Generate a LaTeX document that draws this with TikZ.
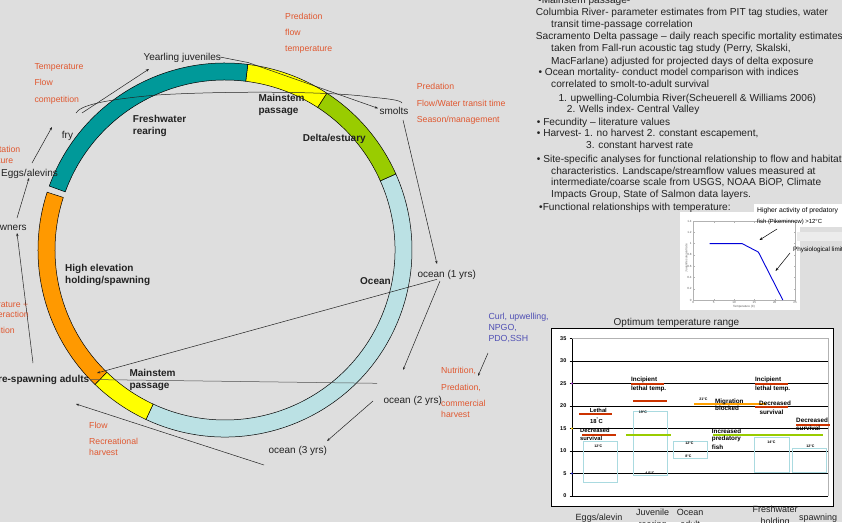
\documentclass[tikz,border=0pt]{standalone}
\usepackage{fontspec}
\setmainfont{Liberation Sans}
\usetikzlibrary{arrows.meta}
\definecolor{bg}{RGB}{222,222,222}
\definecolor{teal1}{RGB}{0,153,153}
\definecolor{yel}{RGB}{255,255,0}
\definecolor{grn}{RGB}{153,204,0}
\definecolor{lblue}{RGB}{187,225,228}
\definecolor{orng}{RGB}{255,153,0}
\definecolor{redtxt}{RGB}{224,88,48}
\definecolor{bluetxt}{RGB}{80,80,180}
\definecolor{txt}{RGB}{34,34,34}
\definecolor{chred}{RGB}{204,51,0}
\definecolor{chgrn}{RGB}{153,204,0}
\definecolor{chorg}{RGB}{255,160,0}
\definecolor{chblue}{RGB}{170,218,224}
\definecolor{mkpurple}{RGB}{160,50,200}
\definecolor{mkyellow}{RGB}{240,200,0}
\definecolor{mkblue}{RGB}{40,40,200}
\definecolor{lightbox}{RGB}{236,236,236}
\begin{document}
\begin{tikzpicture}[x=1pt,y=1pt,
  lab/.style={inner sep=0pt, anchor=base west, text=txt, font=\fontsize{10}{12}\selectfont},
  labb/.style={lab, font=\fontsize{10}{12}\selectfont\bfseries},
  rl/.style={inner sep=0pt, anchor=base west, text=redtxt, font=\fontsize{8.7}{10}\selectfont},
  bll/.style={inner sep=0pt, anchor=base west, text=bluetxt, font=\fontsize{8.8}{10}\selectfont},
  rb/.style={inner sep=0pt, anchor=base west, text=txt, font=\fontsize{10.15}{12}\selectfont},
  cb/.style={inner sep=0pt, anchor=base west, text=black, font=\fontsize{6.3}{7}\selectfont\bfseries},
  cv/.style={inner sep=0pt, anchor=center, text=black, font=\fontsize{3.6}{4}\selectfont\bfseries},
  ct/.style={inner sep=0pt, anchor=east, text=black, font=\fontsize{5.5}{6}\selectfont\bfseries},
  cx/.style={inner sep=0pt, anchor=base, text=txt, font=\fontsize{9}{10}\selectfont},
  insettick/.style={inner sep=0pt, text=gray!70!black, font=\fontsize{3}{3.5}\selectfont},
  insetlab/.style={inner sep=0pt, anchor=base west, text=black, font=\fontsize{6.3}{7}\selectfont},
  arr/.style={draw=txt, line width=0.5pt, -{Stealth[length=3.2pt,width=2.4pt]}},
  ln/.style={draw=txt, line width=0.5pt},
  seg/.style={draw=black, line width=0.5pt},
]
\fill[bg] (0,0) rectangle (842,-522);
\useasboundingbox (0,0) rectangle (842,-522);

% ---------------- life-cycle ring ----------------
\begin{scope}[shift={(225,-250)}]
\foreach \a/\b/\c in {-115/24/lblue, 24/57/grn, 57/83/yel, 83/160/teal1, 162/226/orng, 226/245/yel}
  \filldraw[seg, fill=\c] (\a:187pt) arc[start angle=\a, end angle=\b, radius=187pt]
     -- (\b:170pt) arc[start angle=\b, end angle=\a, radius=170pt] -- cycle;
\end{scope}

% inner bold labels
\node[labb] (fwr1) at (132.7,-122) {Freshwater};
\node[labb] (fwr2) at (132.7,-134) {rearing};
\node[labb] (ms1) at (258.3,-101.3) {Mainstem};
\node[labb] (ms2) at (258.3,-113.5) {passage};
\node[labb] (delta) at (302.7,-141) {Delta/estuary};
\node[labb] (hi1) at (65,-271.3) {High elevation};
\node[labb] (hi2) at (65,-283.3) {holding/spawning};
\node[labb] (oceanlab) at (360,-284.3) {Ocean};
\node[labb] (ms3) at (129.3,-376.3) {Mainstem};
\node[labb] (ms4) at (129.3,-388.3) {passage};

% stage labels
\node[lab] (yearling) at (143.3,-60.9) {Yearling juveniles};
\node[lab] (fry) at (61.7,-138.5) {fry};
\node[lab] (eggs) at (1,-176) {Eggs/alevins};
\node[lab, anchor=base east] (spawners) at (26.8,-230.3) {Spawners};
\node[lab] (smolts) at (379.3,-114.6) {smolts};
\node[lab] (oc1) at (417.3,-277.3) {ocean (1 yrs)};
\node[lab] (oc2) at (383.3,-403.6) {ocean (2 yrs)};
\node[lab] (oc3) at (268.3,-453.6) {ocean (3 yrs)};
\node[labb, anchor=base east] (adults) at (89.5,-382.6) {Pre-spawning adults};

% red factor labels
\node[rl] (f1a) at (285,-19) {Predation};
\node[rl] (f1b) at (285,-35.3) {flow};
\node[rl] (f1c) at (285,-51.6) {temperature};
\node[rl] (f2a) at (416.7,-89.8) {Predation};
\node[rl] (f2b) at (416.7,-106) {Flow/Water transit time};
\node[rl] (f2c) at (416.7,-122.3) {Season/management};
\node[rl] (f3a) at (34.3,-69.8) {Temperature};
\node[rl] (f3b) at (34.3,-85.8) {Flow};
\node[rl] (f3c) at (34.3,-102) {competition};
\node[rl, anchor=base east] (f4a) at (20.5,-152) {Sedimentation};
\node[rl, anchor=base east] (f4b) at (13.3,-163) {Temperature};
\node[rl, anchor=base east] (f5a) at (28.3,-307.4) {Temperature +};
\node[rl, anchor=base east] (f5b) at (29,-317.3) {interaction};
\node[rl, anchor=base east] (f5c) at (15,-333.8) {Competition};
\node[rl] (f6a) at (89,-428.1) {Flow};
\node[rl] (f6b) at (89,-444.8) {Recreational};
\node[rl] (f6c) at (89,-455.6) {harvest};
\node[rl] (f7a) at (441,-373.8) {Nutrition,};
\node[rl] (f7b) at (441,-390.4) {Predation,};
\node[rl] (f7c) at (441,-406.8) {commercial};
\node[rl] (f7d) at (441,-417.4) {harvest};
\node[bll] (b1) at (488.3,-319.8) {Curl, upwelling,};
\node[bll] (b2) at (488.3,-330.8) {NPGO,};
\node[bll] (b3) at (488.3,-341.8) {PDO,SSH};

% connectors
\coordinate (c1a) at (32,-163);   \coordinate (c1b) at (52,-127);
\coordinate (c2a) at (82,-113);   \coordinate (c2b) at (149,-69);
\coordinate (c3a) at (76,-113);   \coordinate (c3b) at (402,-103);
\coordinate (c4a) at (220,-57);   \coordinate (c4m) at (248,-62.5); \coordinate (c4b) at (378,-108.3);
\coordinate (c5a) at (403,-120);  \coordinate (c5b) at (437,-264);
\coordinate (c6a) at (440,-281);  \coordinate (c6b) at (403,-370);
\coordinate (c7a) at (437,-279.3);\coordinate (c7b) at (97,-373);
\coordinate (c8a) at (377,-383.3);\coordinate (c8b) at (90,-379.5);
\coordinate (c9a) at (373,-401);  \coordinate (c9b) at (327,-441);
\coordinate (c10a) at (264,-465); \coordinate (c10b) at (76,-404);
\coordinate (c11a) at (33,-363);  \coordinate (c11b) at (17,-233);
\coordinate (c12a) at (17,-218);  \coordinate (c12b) at (29,-178);
\coordinate (c13a) at (488,-353); \coordinate (c13b) at (478,-376);

\draw[arr] (c1a) -- (c1b);
\draw[arr] (c2a) -- (c2b);
\draw[ln] (c3a) .. controls (80,-106) and (100,-100) .. (157,-95)
   .. controls (220,-91) and (330,-91) .. (370,-97)
   .. controls (390,-99) and (400,-100) .. (c3b);
\draw[arr] (c4a) -- (c4m) -- (c4b);
\draw[arr] (c5a) -- (c5b);
\draw[arr] (c6a) -- (c6b);
\draw[arr] (c7a) -- (c7b);
\draw[ln, draw=txt!80] (c8a) -- (c8b);
\draw[arr] (c9a) -- (c9b);
\draw[arr] (c10a) -- (c10b);
\draw[arr] (c11a) -- (c11b);
\draw[arr] (c12a) -- (c12b);
\draw[arr] (c13a) -- (c13b);

% ---------------- text block ----------------
\node[rb] (r0) at (538,-3.5) {•Mainstem passage-};
\node[rb] (r1) at (535.7,-15.8) {Columbia River- parameter estimates from PIT tag studies, water};
\node[rb] (r2) at (551,-27.8) {transit time-passage correlation};
\node[rb] (r3) at (535.7,-39.5) {Sacramento Delta passage – daily reach specific mortality estimates};
\node[rb] (r4) at (551,-51.8) {taken from Fall-run acoustic tag study (Perry, Skalski,};
\node[rb] (r5) at (551,-64.2) {MacFarlane) adjusted for projected days of delta exposure};
\node[rb] (r6) at (538.3,-75.8) {• Ocean mortality- conduct model comparison with indices};
\node[rb] (r7) at (551,-87.8) {correlated to smolt-to-adult survival};
\node[rb] (r8) at (558.3,-101.2) {1. upwelling-Columbia River(Scheuerell \& Williams 2006)};
\node[rb] (r9) at (566.7,-112.8) {2. Wells index- Central Valley};
\node[rb] (r10) at (536.7,-125.2) {• Fecundity – literature values};
\node[rb] (r11) at (536.7,-136.8) {• Harvest- 1. no harvest 2. constant escapement,};
\node[rb] (r12) at (586,-148.5) {3. constant harvest rate};
\node[rb] (r13) at (536.7,-162.2) {• Site-specific analyses for functional relationship to flow and habitat};
\node[rb] (r14) at (551,-174.5) {characteristics. Landscape/streamflow values measured at};
\node[rb] (r15) at (551,-185.5) {intermediate/coarse scale from USGS, NOAA BiOP, Climate};
\node[rb] (r16) at (551,-197.5) {Impacts Group, State of Salmon data layers.};
\node[rb] (r17) at (539,-210.2) {•Functional relationships with temperature:};

% ---------------- inset plot ----------------
\fill[white] (680,-212) rectangle (800,-310);
\fill[white] (754,-203.5) rectangle (842,-227);
\fill[lightbox] (797,-232) rectangle (842,-241);
\draw[gray!60, line width=0.3pt] (693.3,-221) rectangle (795,-300);
\foreach \t in {0,5,...,25} {
  \draw[gray!60, line width=0.3pt] ({693.3+4.07*\t},-300) -- ++(0,1.5);
  \draw[gray!60, line width=0.3pt] ({693.3+4.07*\t},-221) -- ++(0,-1.5);
  \node[insettick, anchor=north] (xt\t) at ({693.3+4.07*\t},-301.3) {\t};
}
\foreach \v/\l [count=\i] in {0/0,0.2/0.2,0.4/0.4,0.6/0.6,0.8/0.8,1/1,1.2/1.2,1.4/1.4} {
  \draw[gray!60, line width=0.3pt] (693.3,{-300+56.4*\v}) -- ++(1.5,0);
  \draw[gray!60, line width=0.3pt] (795,{-300+56.4*\v}) -- ++(-1.5,0);
  \node[insettick, anchor=east] (yt\i) at (691.8,{-300+56.4*\v}) {\l};
}
\node[insettick, rotate=90] (iyl) at (686.3,-258) {Juvenile survival rate};
\node[insettick] (ixl) at (744,-307) {Temperature (C)};
\coordinate (p1) at (709.6,-243.6);
\coordinate (p2) at (742.1,-243.6);
\coordinate (p3) at (758.4,-252.1);
\coordinate (p4) at (782.8,-300);
\draw[blue!85!black, line width=0.9pt] (p1) -- (p2) -- (p3) -- (p4);
\node[insetlab, font=\fontsize{6.8}{7}\selectfont] (ha1) at (757,-212.3) {Higher activity of predatory};
\node[insetlab, font=\fontsize{5.9}{7}\selectfont] (ha2) at (757,-223.8) {fish (Pikeminnow) >12°C};
\node[insetlab] (phys) at (793,-251.3) {Physiological limit};
\coordinate (ia1) at (777,-229); \coordinate (ia2) at (759.5,-240);
\coordinate (ib1) at (790,-253); \coordinate (ib2) at (775.5,-271);
\draw[arr, draw=black] (ia1) -- (ia2);
\draw[arr, draw=black] (ib1) -- (ib2);

% ---------------- temperature chart ----------------
\node[inner sep=0pt, anchor=base, text=txt, font=\fontsize{10}{12}\selectfont] (ctitle) at (676.5,-325.3) {Optimum temperature range};
\draw[fill=white, draw=black, line width=0.8pt] (551,-328) rectangle (833,-506);
\draw[gray!60, line width=0.5pt] (572,-338.5) -- (828,-338.5) -- (828,-496);
\foreach \v in {5,10,...,30} \draw[black, line width=0.8pt] (572,{-496+4.5*\v}) -- (828,{-496+4.5*\v});
\draw[black, line width=0.8pt] (572,-338.5) -- (572,-496) -- (828,-496);
\foreach \v in {0,5,...,35} {
  \draw[black, line width=0.6pt] (569.5,{-496+4.5*\v}) -- (572,{-496+4.5*\v});
  \node[ct] (yl\v) at (566.5,{-496+4.5*\v}) {\v};
}
\fill[mkpurple] (572,-383.5) circle (1.1pt);
\fill[mkyellow] (572,-428.5) circle (1.1pt);
\fill[mkblue] (572,-473.5) circle (1.1pt);

% ranges
\draw[chblue, line width=1pt] (583,-441.7) rectangle (617,-482.3);
\draw[chblue, line width=1pt] (633,-411) rectangle (667,-475);
\draw[chblue, line width=1pt] (673.3,-441.7) rectangle (707.7,-458.3);
\draw[chblue, line width=1pt] (754.3,-437.7) rectangle (789,-472.3);
\draw[chblue, line width=1pt] (792.3,-448.3) rectangle (826.7,-472.3);
% thresholds
\draw[chred, line width=1.3pt] (579,-414) -- (612,-414);
\draw[chred, line width=1.3pt] (582,-435) -- (616,-435);
\draw[chred, line width=1.3pt] (631,-384) -- (664,-384);
\draw[chred, line width=1.3pt] (633,-401) -- (667,-401);
\draw[chred, line width=1.3pt] (755,-384) -- (788,-384);
\draw[chred, line width=1.3pt] (755,-407) -- (788,-407);
\draw[chred, line width=1.3pt] (796,-425) -- (830,-425);
\draw[chgrn, line width=1.3pt] (626,-435) -- (671,-435);
\draw[chgrn, line width=1.3pt] (713,-435) -- (823,-435);
\draw[chorg, line width=1.3pt] (694,-404) -- (766,-404);

% chart labels
\node[cb, anchor=base, font=\fontsize{5.8}{7}\selectfont\bfseries] (leth) at (598.3,-412.2) {Lethal};
\node[cb, anchor=base, font=\fontsize{5.8}{7}\selectfont\bfseries] (leth2) at (596.5,-423.1) {18\textsuperscript{°}C};
\node[cb, font=\fontsize{5.8}{7}\selectfont\bfseries] (ds1a) at (580,-432.8) {Decreased};
\node[cb, font=\fontsize{5.8}{7}\selectfont\bfseries] (ds1b) at (580,-440.4) {survival};
\node[cb] (il1a) at (631,-381.6) {Incipient};
\node[cb] (il1b) at (631,-390.6) {lethal temp.};
\node[cb] (mb1) at (715,-403) {Migration};
\node[cb] (mb2) at (715,-410.6) {blocked};
\node[cb] (ds2a) at (759,-405.6) {Decreased};
\node[cb] (ds2b) at (759.3,-414) {survival};
\node[cb] (il2a) at (755,-381.6) {Incipient};
\node[cb] (il2b) at (755,-390.6) {lethal temp.};
\node[cb] (ds3a) at (796,-422.3) {Decreased};
\node[cb] (ds3b) at (796,-430.6) {survival};
\node[cb] (ip1) at (711.7,-433) {Increased};
\node[cb] (ip2) at (711.7,-440.6) {predatory};
\node[cb] (ip3) at (711.7,-449) {fish};
\node[cv] (v1) at (598.3,-446) {12°C};
\node[cv] (v2) at (643,-412.3) {19°C};
\node[cv] (v3) at (650,-473.3) {4.5°C};
\node[cv] (v4) at (689.5,-443.5) {12°C};
\node[cv] (v5) at (688.5,-456.7) {8°C};
\node[cv] (v6) at (703.5,-399.3) {21°C};
\node[cv] (v7) at (771.5,-442.7) {14°C};
\node[cv] (v8) at (810.5,-446) {12°C};

% category labels
\node[cx] (xc1) at (599,-520.5) {Eggs/alevin};
\node[cx] (xc2) at (652.5,-515.8) {Juvenile};
\node[cx] (xc2b) at (652.5,-527.3) {rearing};
\node[cx] (xc3) at (690,-515.8) {Ocean};
\node[cx] (xc3b) at (690,-527.3) {adult};
\node[cx] (xc4) at (775,-512.9) {Freshwater};
\node[cx] (xc4b) at (775,-524.4) {holding};
\node[cx] (xc5) at (818,-520.5) {spawning};
\end{tikzpicture}
\end{document}
